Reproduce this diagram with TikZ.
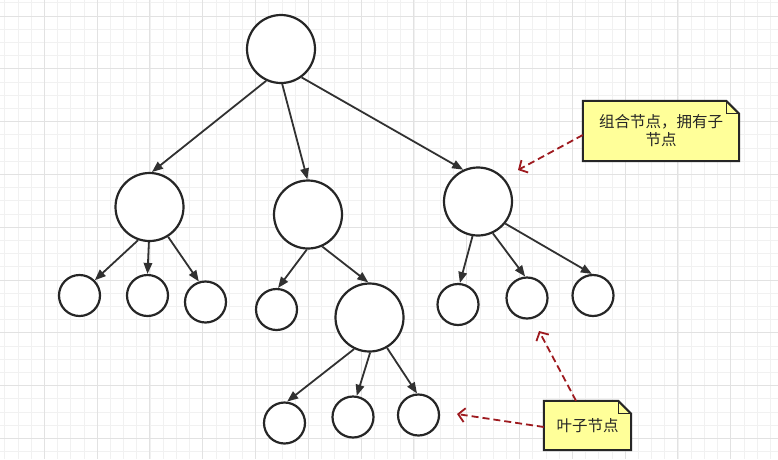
\documentclass[tikz,border=0pt]{standalone}
\usepackage{fontspec}
\newfontfamily\cjk{Noto Sans CJK SC}
\usetikzlibrary{arrows.meta}
\definecolor{notefill}{HTML}{FFFF99}
\definecolor{arrowred}{HTML}{9E1A1F}
\definecolor{inkc}{HTML}{262626}
\definecolor{minorg}{HTML}{F1F1F1}
\definecolor{majorg}{HTML}{E2E2E2}
\begin{document}
\begin{tikzpicture}[x=1pt,y=-1pt,
  treenode/.style={circle,draw=inkc,line width=2.2pt,fill=white,inner sep=0pt},
  big/.style={treenode,minimum size=68pt},
  leaf/.style={treenode,minimum size=41pt},
  edge/.style={draw=inkc!95,line width=1.8pt,-{Triangle[length=11pt,width=8.5pt]}},
  notearrow/.style={draw=arrowred,line width=1.8pt,dash pattern=on 7pt off 4pt,-{Straight Barb[length=6.5pt,width=14pt]}},
  notebox/.style={inner sep=0pt,align=center,text=inkc,font=\cjk\fontsize{15.5pt}{18pt}\selectfont},
  noteline/.style={draw=inkc,fill=notefill,line width=2pt,line join=miter},
  minorgrid/.style={draw=minorg,line width=0.8pt},
  majorgrid/.style={draw=majorg,line width=0.9pt},
]
\useasboundingbox (0,0) rectangle (778,459);
\fill[white] (0,0) rectangle (778,459);
% grid
\foreach \i in {0,...,58} { \draw[minorgrid] ({4.7+13.2*\i},0) -- ({4.7+13.2*\i},459); }
\foreach \i in {0,...,34} { \draw[minorgrid] (0,{2.8+13.2*\i}) -- (778,{2.8+13.2*\i}); }
\foreach \k in {0,...,13} { \draw[majorgrid] ({44.3+52.8*\k},0) -- ({44.3+52.8*\k},459); }
\foreach \k in {0,...,8} { \draw[majorgrid] (0,{16+52.8*\k}) -- (778,{16+52.8*\k}); }

% tree nodes
\node[big] (root) at (281,49) {};
\node[big] (A) at (149.5,207) {};
\node[big] (B) at (308,214.5) {};
\node[big] (C) at (478,201.5) {};
\node[leaf] (a1) at (79.5,295.5) {};
\node[leaf] (a2) at (147.5,295.5) {};
\node[leaf] (a3) at (205.5,302) {};
\node[leaf] (b1) at (276.5,309.5) {};
\node[big] (B2) at (369.5,317.5) {};
\node[leaf] (c1) at (284.5,423) {};
\node[leaf] (c2) at (353,417) {};
\node[leaf] (c3) at (418.5,415) {};
\node[leaf] (r1) at (458,304.5) {};
\node[leaf] (r2) at (527,298) {};
\node[leaf] (r3) at (593,295.5) {};

% edges
\draw[edge] (root.245) -- (A.86);
\draw[edge] (root.272) -- (B.91);
\draw[edge] (root.306) -- (C.115);
\draw[edge] (A.251) -- (a1.45);
\draw[edge] (A.269) -- (a2.90);
\draw[edge] (A.302) -- (a3.108);
\draw[edge] (B.268) -- (b1.86);
\draw[edge] (B.294) -- (B2.92);
\draw[edge] (B2.244) -- (c1.83);
\draw[edge] (B2.271) -- (c2.80);
\draw[edge] (B2.300) -- (c3.94);
\draw[edge] (C.261) -- (r1.85);
\draw[edge] (C.295) -- (r2.95);
\draw[edge] (C.321) -- (r3.93);

% notes
\node[notebox,minimum width=156pt,minimum height=60pt] (n1) at (661,131) {};
\draw[noteline] (n1.north west) -- ([xshift=-13pt]n1.north east) -- ([yshift=-13pt]n1.north east) -- (n1.south east) -- (n1.south west) -- cycle;
\draw[draw=inkc,line width=1.3pt] ([xshift=-13pt]n1.north east) -- ([xshift=-13pt,yshift=-13pt]n1.north east) -- ([yshift=-13pt]n1.north east);
\node[notebox] (n1text) at (n1.center) {组合节点，拥有子\\节点};

\node[notebox,minimum width=87pt,minimum height=49pt] (n2) at (587.5,425.5) {};
\draw[noteline] (n2.north west) -- ([xshift=-13pt]n2.north east) -- ([yshift=-13pt]n2.north east) -- (n2.south east) -- (n2.south west) -- cycle;
\draw[draw=inkc,line width=1.3pt] ([xshift=-13pt]n2.north east) -- ([xshift=-13pt,yshift=-13pt]n2.north east) -- ([yshift=-13pt]n2.north east);
\node[notebox] (n2text) at (n2.center) {叶子节点};

\coordinate (t1) at (518,170);
\coordinate (t2) at (539,331);
\coordinate (t3) at (457,414);
\draw[notearrow] ([yshift=-4pt]n1.west) -- (t1);
\draw[notearrow] ([xshift=-11.5pt]n2.north) -- (t2);
\draw[notearrow] ([yshift=-1.5pt]n2.west) -- (t3);
\end{tikzpicture}
\end{document}
